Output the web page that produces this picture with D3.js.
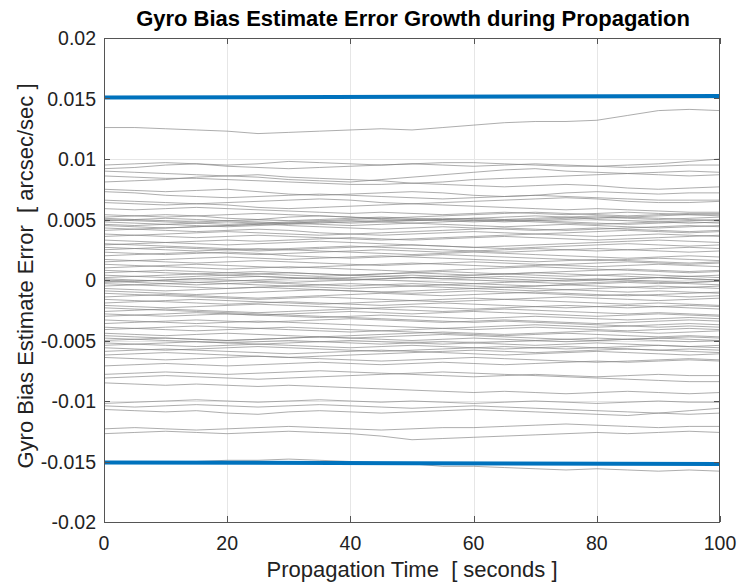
<!DOCTYPE html>
<html>
<head>
<meta charset="utf-8">
<script src="https://cdn.jsdelivr.net/npm/d3@7/dist/d3.min.js"></script>
<style>
  body { margin: 0; background: #fff; }
  text { font-family: 'Liberation Sans', Arial, Helvetica, sans-serif; }
</style>
</head>
<body>
<script>
window.document.addEventListener('DOMContentLoaded', init, false);

// sample times [seconds]
var timeGrid = [0, 5, 10, 15, 20, 25, 30, 35, 40, 45, 50, 55, 60, 65, 70, 75, 80, 85, 90, 95, 100];

// run values, in units of 0.001 arcsec/sec
var upperRuns = [
    [12.6, 12.6, 12.5, 12.4, 12.3, 12.1, 12.2, 12.3, 12.4, 12.5, 12.4, 12.6, 12.8, 13.0, 13.1, 13.1, 13.2, 13.6, 14.0, 14.1, 14.0],
    [9.5, 9.6, 9.7, 9.6, 9.5, 9.6, 9.8, 9.7, 9.6, 9.5, 9.6, 9.7, 9.7, 9.6, 9.5, 9.4, 9.4, 9.5, 9.6, 9.8, 10.0],
    [9.2, 9.3, 9.5, 9.6, 9.4, 9.3, 9.2, 9.3, 9.4, 9.5, 9.6, 9.5, 9.4, 9.5, 9.6, 9.5, 9.4, 9.3, 9.4, 9.5, 9.5],
    [9.0, 8.9, 8.8, 8.7, 8.6, 8.5, 8.3, 8.2, 8.1, 8.3, 8.5, 8.7, 8.9, 9.1, 9.2, 9.0, 8.9, 8.8, 8.9, 9.0, 8.9],
    [8.6, 8.5, 8.4, 8.4, 8.3, 8.2, 8.1, 8.0, 7.9, 7.9, 8.0, 8.1, 8.3, 8.4, 8.5, 8.6, 8.7, 8.8, 8.7, 8.6, 8.7],
    [8.1, 8.2, 8.3, 8.5, 8.6, 8.7, 8.5, 8.4, 8.3, 8.2, 8.0, 7.9, 7.8, 7.7, 7.8, 7.9, 7.8, 7.6, 7.5, 7.6, 7.7],
    [7.5, 7.4, 7.3, 7.4, 7.5, 7.3, 7.1, 7.0, 7.1, 7.2, 7.3, 7.2, 7.0, 6.9, 7.0, 7.2, 7.3, 7.2, 7.1, 7.2, 7.2],
    [7.3, 7.2, 7.0, 6.9, 6.8, 6.9, 7.0, 7.1, 7.0, 6.9, 6.8, 6.7, 6.8, 6.9, 7.0, 6.9, 6.8, 6.7, 6.6, 6.6, 6.6],
    [6.6, 6.5, 6.4, 6.3, 6.4, 6.5, 6.6, 6.7, 6.6, 6.4, 6.3, 6.4, 6.5, 6.6, 6.7, 6.8, 6.7, 6.5, 6.4, 6.4, 6.5],
    [6.4, 6.3, 6.2, 6.3, 6.2, 6.0, 5.9, 6.0, 6.1, 6.2, 6.3, 6.2, 6.1, 6.0, 5.9, 5.8, 5.9, 5.8, 5.7, 5.6, 5.6],
    [5.9, 5.8, 5.9, 6.0, 5.9, 5.8, 5.7, 5.6, 5.5, 5.6, 5.5, 5.4, 5.5, 5.6, 5.5, 5.4, 5.5, 5.6, 5.5, 5.4, 5.4]
];

var centralRuns = [
    [5.4, 5.3, 5.2, 5.3, 5.4, 5.5, 5.4, 5.3, 5.2, 5.1, 5.2, 5.3, 5.4, 5.5, 5.6, 5.5, 5.4, 5.3, 5.4, 5.5, 5.5],
    [5.2, 5.3, 5.4, 5.3, 5.1, 5.0, 4.9, 5.0, 5.1, 5.2, 5.1, 5.0, 4.9, 4.8, 4.9, 5.0, 5.1, 5.2, 5.1, 5.0, 4.9],
    [5.1, 5.0, 4.9, 4.8, 4.9, 5.0, 5.2, 5.3, 5.2, 5.0, 4.9, 5.0, 5.1, 5.2, 5.3, 5.2, 5.0, 4.9, 4.8, 4.7, 4.8],
    [5.0, 4.9, 4.8, 4.7, 4.6, 4.7, 4.8, 4.9, 5.0, 5.1, 5.0, 4.9, 4.8, 4.9, 5.0, 5.1, 5.2, 5.1, 5.0, 5.1, 5.2],
    [4.9, 5.0, 5.1, 5.0, 4.9, 4.8, 4.7, 4.6, 4.5, 4.6, 4.7, 4.6, 4.5, 4.4, 4.5, 4.6, 4.5, 4.4, 4.3, 4.4, 4.5],
    [4.8, 4.7, 4.6, 4.5, 4.4, 4.5, 4.6, 4.7, 4.8, 4.9, 5.0, 5.1, 5.0, 4.9, 4.8, 4.7, 4.6, 4.7, 4.8, 4.9, 5.0],
    [4.6, 4.5, 4.6, 4.7, 4.8, 4.7, 4.5, 4.4, 4.3, 4.2, 4.3, 4.4, 4.3, 4.2, 4.1, 4.2, 4.3, 4.2, 4.1, 4.0, 4.1],
    [4.5, 4.4, 4.3, 4.4, 4.5, 4.6, 4.7, 4.8, 4.9, 4.8, 4.7, 4.8, 4.9, 5.0, 4.9, 4.8, 4.7, 4.6, 4.7, 4.8, 4.7],
    [4.3, 4.2, 4.1, 4.0, 4.1, 4.2, 4.1, 3.9, 3.8, 3.7, 3.8, 3.9, 4.0, 3.9, 3.8, 3.7, 3.6, 3.7, 3.8, 3.7, 3.6],
    [4.1, 4.2, 4.3, 4.4, 4.5, 4.6, 4.7, 4.8, 4.7, 4.8, 4.9, 5.0, 5.1, 5.0, 5.1, 5.2, 5.3, 5.2, 5.3, 5.4, 5.3],
    [3.8, 3.7, 3.6, 3.5, 3.6, 3.7, 3.6, 3.5, 3.4, 3.3, 3.4, 3.5, 3.6, 3.7, 3.8, 3.9, 4.0, 4.1, 4.0, 3.9, 4.0],
    [3.6, 3.7, 3.8, 3.9, 4.0, 3.9, 3.8, 3.7, 3.8, 3.9, 4.0, 4.1, 4.2, 4.3, 4.2, 4.1, 4.2, 4.3, 4.4, 4.5, 4.4],
    [3.3, 3.2, 3.1, 3.0, 2.9, 3.0, 3.1, 3.2, 3.1, 3.0, 2.9, 2.8, 2.7, 2.8, 2.9, 3.0, 3.1, 3.2, 3.3, 3.2, 3.1],
    [3.0, 2.9, 2.8, 2.7, 2.6, 2.5, 2.6, 2.7, 2.8, 2.7, 2.6, 2.5, 2.4, 2.3, 2.4, 2.5, 2.6, 2.5, 2.4, 2.3, 2.4],
    [2.9, 3.0, 3.1, 3.2, 3.3, 3.2, 3.3, 3.4, 3.5, 3.4, 3.3, 3.4, 3.5, 3.6, 3.5, 3.4, 3.3, 3.4, 3.5, 3.6, 3.7],
    [2.7, 2.6, 2.5, 2.4, 2.5, 2.6, 2.5, 2.4, 2.3, 2.2, 2.1, 2.2, 2.3, 2.2, 2.1, 2.0, 1.9, 1.8, 1.9, 2.0, 1.9],
    [2.5, 2.6, 2.7, 2.6, 2.5, 2.4, 2.5, 2.6, 2.7, 2.8, 2.9, 2.8, 2.7, 2.6, 2.7, 2.8, 2.9, 3.0, 2.9, 2.8, 2.9],
    [2.3, 2.2, 2.1, 2.2, 2.3, 2.2, 2.0, 1.9, 1.8, 1.9, 2.0, 2.1, 2.0, 1.9, 1.8, 1.7, 1.6, 1.7, 1.8, 1.7, 1.6],
    [2.0, 2.1, 2.2, 2.3, 2.2, 2.1, 2.2, 2.3, 2.4, 2.5, 2.4, 2.3, 2.4, 2.5, 2.6, 2.5, 2.4, 2.5, 2.6, 2.7, 2.6],
    [1.7, 1.6, 1.5, 1.4, 1.5, 1.6, 1.5, 1.4, 1.3, 1.2, 1.3, 1.4, 1.5, 1.4, 1.3, 1.2, 1.1, 1.2, 1.3, 1.2, 1.1],
    [1.5, 1.6, 1.7, 1.8, 1.9, 1.8, 1.7, 1.8, 1.9, 2.0, 1.9, 1.8, 1.7, 1.6, 1.5, 1.6, 1.7, 1.6, 1.5, 1.4, 1.5],
    [1.3, 1.2, 1.1, 1.0, 0.9, 1.0, 1.1, 1.0, 0.9, 0.8, 0.7, 0.8, 0.9, 1.0, 1.1, 1.0, 0.9, 0.8, 0.7, 0.6, 0.7],
    [1.0, 1.1, 1.2, 1.3, 1.2, 1.1, 1.0, 1.1, 1.2, 1.3, 1.4, 1.3, 1.2, 1.1, 1.2, 1.3, 1.4, 1.5, 1.4, 1.3, 1.4],
    [0.8, 0.7, 0.6, 0.5, 0.6, 0.7, 0.6, 0.5, 0.4, 0.5, 0.6, 0.7, 0.6, 0.5, 0.4, 0.3, 0.4, 0.5, 0.4, 0.3, 0.2],
    [0.6, 0.7, 0.8, 0.7, 0.6, 0.5, 0.4, 0.3, 0.4, 0.5, 0.6, 0.5, 0.4, 0.5, 0.6, 0.7, 0.8, 0.9, 0.8, 0.7, 0.8],
    [0.4, 0.3, 0.2, 0.3, 0.4, 0.5, 0.6, 0.5, 0.4, 0.3, 0.2, 0.1, 0.2, 0.3, 0.2, 0.1, 0.0, 0.1, 0.2, 0.1, 0.0],
    [0.2, 0.3, 0.4, 0.5, 0.4, 0.3, 0.2, 0.1, 0.0, 0.1, 0.2, 0.3, 0.4, 0.5, 0.6, 0.5, 0.4, 0.3, 0.2, 0.3, 0.4],
    [0.1, 0.0, -0.1, -0.2, -0.1, 0.0, 0.1, 0.2, 0.1, 0.0, -0.1, -0.2, -0.3, -0.2, -0.1, 0.0, 0.1, 0.0, -0.1, -0.2, -0.1],
    [0.0, -0.1, 0.0, 0.1, 0.2, 0.3, 0.2, 0.1, 0.2, 0.3, 0.4, 0.3, 0.2, 0.1, 0.0, -0.1, 0.0, 0.1, 0.2, 0.1, 0.0],
    [-0.1, -0.2, -0.3, -0.4, -0.3, -0.2, -0.3, -0.4, -0.5, -0.4, -0.3, -0.4, -0.5, -0.6, -0.5, -0.4, -0.5, -0.6, -0.7, -0.6, -0.5],
    [-0.2, -0.1, 0.0, 0.1, 0.0, -0.1, -0.2, -0.1, 0.0, 0.1, 0.2, 0.1, 0.0, -0.1, -0.2, -0.3, -0.2, -0.1, -0.2, -0.3, -0.4],
    [-0.3, -0.4, -0.5, -0.6, -0.7, -0.6, -0.5, -0.4, -0.3, -0.4, -0.5, -0.6, -0.7, -0.8, -0.9, -0.8, -0.9, -1.0, -0.9, -1.0, -1.1],
    [-0.5, -0.4, -0.3, -0.2, -0.3, -0.4, -0.5, -0.6, -0.7, -0.6, -0.5, -0.4, -0.3, -0.4, -0.5, -0.4, -0.3, -0.2, -0.3, -0.2, -0.1],
    [-0.7, -0.8, -0.9, -0.8, -0.7, -0.6, -0.7, -0.8, -0.9, -1.0, -1.1, -1.0, -0.9, -1.0, -1.1, -1.2, -1.3, -1.2, -1.3, -1.4, -1.3],
    [-0.9, -1.0, -1.1, -1.2, -1.1, -1.0, -0.9, -0.8, -0.9, -1.0, -0.9, -0.8, -0.7, -0.6, -0.7, -0.8, -0.7, -0.6, -0.5, -0.6, -0.7],
    [-1.1, -1.2, -1.3, -1.4, -1.5, -1.6, -1.5, -1.4, -1.5, -1.6, -1.7, -1.8, -1.7, -1.6, -1.7, -1.8, -1.9, -2.0, -1.9, -2.0, -2.1],
    [-1.4, -1.3, -1.2, -1.3, -1.4, -1.5, -1.4, -1.3, -1.2, -1.1, -1.2, -1.3, -1.2, -1.1, -1.0, -1.1, -1.2, -1.3, -1.2, -1.1, -1.0],
    [-1.6, -1.7, -1.8, -1.9, -2.0, -1.9, -1.8, -1.9, -2.0, -2.1, -2.0, -1.9, -2.0, -2.1, -2.2, -2.3, -2.2, -2.1, -2.2, -2.3, -2.4],
    [-1.9, -1.8, -1.7, -1.6, -1.7, -1.8, -1.9, -2.0, -1.9, -1.8, -1.7, -1.6, -1.5, -1.6, -1.5, -1.4, -1.5, -1.6, -1.7, -1.6, -1.5],
    [-2.1, -2.2, -2.3, -2.2, -2.1, -2.0, -2.1, -2.2, -2.3, -2.4, -2.5, -2.6, -2.5, -2.4, -2.5, -2.6, -2.7, -2.8, -2.7, -2.8, -2.9],
    [-2.3, -2.4, -2.5, -2.6, -2.7, -2.8, -2.9, -3.0, -3.1, -3.2, -3.3, -3.4, -3.5, -3.4, -3.5, -3.6, -3.7, -3.8, -3.9, -3.8, -3.9],
    [-2.6, -2.5, -2.4, -2.5, -2.6, -2.7, -2.6, -2.5, -2.4, -2.3, -2.2, -2.3, -2.4, -2.3, -2.2, -2.1, -2.2, -2.3, -2.2, -2.1, -2.2],
    [-2.8, -2.9, -3.0, -2.9, -2.8, -2.9, -3.0, -3.1, -3.0, -2.9, -3.0, -3.1, -3.2, -3.1, -3.0, -3.1, -3.2, -3.3, -3.2, -3.1, -3.2],
    [-3.0, -2.9, -2.8, -2.7, -2.8, -2.9, -2.8, -2.7, -2.6, -2.7, -2.8, -2.7, -2.6, -2.7, -2.8, -2.9, -3.0, -2.9, -2.8, -2.9, -3.0],
    [-3.3, -3.4, -3.5, -3.6, -3.5, -3.4, -3.5, -3.6, -3.7, -3.8, -3.9, -4.0, -4.1, -4.0, -3.9, -4.0, -4.1, -4.2, -4.1, -4.0, -4.1],
    [-3.6, -3.5, -3.4, -3.3, -3.4, -3.5, -3.4, -3.3, -3.2, -3.3, -3.4, -3.5, -3.4, -3.3, -3.4, -3.5, -3.6, -3.5, -3.4, -3.3, -3.4],
    [-3.9, -4.0, -4.1, -4.2, -4.1, -4.0, -3.9, -4.0, -4.1, -4.2, -4.3, -4.4, -4.5, -4.6, -4.5, -4.4, -4.5, -4.6, -4.7, -4.6, -4.7],
    [-4.1, -4.0, -3.9, -3.8, -3.9, -4.0, -4.1, -4.2, -4.3, -4.2, -4.1, -4.0, -3.9, -3.8, -3.7, -3.8, -3.9, -3.8, -3.7, -3.6, -3.7],
    [-4.4, -4.5, -4.6, -4.5, -4.4, -4.5, -4.6, -4.7, -4.8, -4.7, -4.6, -4.5, -4.6, -4.7, -4.8, -4.9, -5.0, -4.9, -4.8, -4.9, -5.0],
    [-4.6, -4.7, -4.8, -4.9, -5.0, -4.9, -4.8, -4.7, -4.6, -4.5, -4.4, -4.3, -4.4, -4.5, -4.4, -4.3, -4.2, -4.3, -4.4, -4.3, -4.2],
    [-4.8, -4.9, -5.0, -5.1, -5.2, -5.1, -5.0, -5.1, -5.2, -5.3, -5.2, -5.1, -5.2, -5.3, -5.4, -5.3, -5.2, -5.3, -5.4, -5.5, -5.4],
    [-5.0, -4.9, -4.8, -4.9, -5.0, -4.9, -4.8, -4.7, -4.8, -4.9, -5.0, -4.9, -4.8, -4.9, -5.0, -5.1, -5.0, -4.9, -5.0, -5.1, -5.0],
    [-5.2, -5.3, -5.4, -5.5, -5.4, -5.3, -5.4, -5.5, -5.6, -5.5, -5.4, -5.5, -5.6, -5.7, -5.6, -5.5, -5.6, -5.7, -5.8, -5.7, -5.8],
    [-5.4, -5.3, -5.2, -5.1, -5.2, -5.3, -5.2, -5.1, -5.0, -5.1, -5.2, -5.3, -5.2, -5.1, -5.0, -4.9, -4.8, -4.9, -4.8, -4.7, -4.8],
    [-5.6, -5.7, -5.8, -5.7, -5.6, -5.5, -5.6, -5.7, -5.8, -5.9, -5.8, -5.7, -5.6, -5.5, -5.6, -5.7, -5.6, -5.5, -5.4, -5.5, -5.6],
    [-5.9, -5.8, -5.7, -5.8, -5.9, -6.0, -6.1, -6.0, -5.9, -5.8, -5.9, -6.0, -6.1, -6.2, -6.1, -6.0, -5.9, -6.0, -6.1, -6.2, -6.1],
    [-6.2, -6.1, -6.0, -6.1, -6.2, -6.3, -6.4, -6.3, -6.2, -6.1, -6.0, -5.9, -5.8, -5.9, -6.0, -5.9, -5.8, -5.7, -5.8, -5.9, -6.0],
    [-6.4, -6.5, -6.6, -6.5, -6.4, -6.3, -6.4, -6.5, -6.6, -6.7, -6.6, -6.5, -6.4, -6.5, -6.6, -6.7, -6.8, -6.7, -6.6, -6.5, -6.6]
];

var lowerRuns = [
    [-7.1, -7.0, -6.9, -7.0, -7.1, -7.0, -6.9, -6.8, -6.9, -7.0, -6.9, -6.8, -6.9, -7.0, -6.9, -6.8, -6.7, -6.8, -6.7, -6.6, -6.7],
    [-7.8, -7.7, -7.6, -7.7, -7.8, -7.7, -7.6, -7.5, -7.6, -7.7, -7.8, -7.9, -8.0, -7.9, -7.8, -7.9, -8.0, -7.9, -7.8, -7.9, -7.9],
    [-8.1, -8.0, -7.9, -8.0, -8.1, -8.2, -8.1, -8.0, -7.9, -7.8, -7.7, -7.6, -7.7, -7.8, -7.9, -8.0, -8.1, -8.2, -8.3, -8.4, -8.4],
    [-8.5, -8.6, -8.7, -8.6, -8.7, -8.8, -8.7, -8.8, -8.9, -9.0, -9.1, -9.2, -9.3, -9.2, -9.3, -9.4, -9.3, -9.2, -9.3, -9.4, -9.3],
    [-10.2, -10.1, -10.0, -9.9, -10.0, -10.1, -10.0, -9.9, -10.0, -10.1, -10.0, -10.1, -10.2, -10.1, -10.0, -10.1, -10.2, -10.1, -10.0, -10.1, -10.1],
    [-10.4, -10.5, -10.4, -10.3, -10.4, -10.5, -10.4, -10.3, -10.4, -10.5, -10.6, -10.5, -10.4, -10.5, -10.6, -10.7, -10.8, -10.9, -11.0, -11.1, -11.0],
    [-10.7, -10.8, -10.9, -10.8, -11.0, -11.1, -10.9, -10.8, -10.9, -11.0, -10.9, -10.8, -10.7, -10.8, -10.9, -11.0, -11.1, -11.2, -11.0, -10.8, -10.6],
    [-12.3, -12.2, -12.3, -12.4, -12.3, -12.2, -12.1, -12.2, -12.3, -12.4, -12.3, -12.2, -12.2, -12.1, -12.0, -11.9, -12.0, -12.1, -12.2, -12.1, -12.1],
    [-12.7, -12.6, -12.5, -12.6, -12.7, -12.6, -12.5, -12.6, -12.7, -12.9, -13.2, -13.1, -13.0, -12.9, -12.8, -12.7, -12.6, -12.7, -12.6, -12.5, -12.6],
    [-15.0, -15.1, -15.0, -15.0, -14.9, -14.9, -14.8, -14.9, -15.0, -15.1, -15.2, -15.4, -15.4, -15.5, -15.6, -15.7, -15.6, -15.7, -15.8, -15.7, -15.8]
];

// 3-sigma bound, also in 0.001 arcsec/sec
var boundTimes = [0, 50, 100];
var boundValues = [15.08, 15.14, 15.2];

var xTicks = [0, 20, 40, 60, 80, 100];
var yTicks = [-0.02, -0.015, -0.01, -0.005, 0, 0.005, 0.01, 0.015, 0.02];
var yTickLabels = ['-0.02', '-0.015', '-0.01', '-0.005', '0', '0.005', '0.01', '0.015', '0.02'];

var titleText = 'Gyro Bias Estimate Error Growth during Propagation';
var xLabelText = 'Propagation Time  [ seconds ]';
var yLabelText = 'Gyro Bias Estimate Error  [ arcsec/sec ]';

var W = 740, H = 582;
var plot = { left: 104, right: 720, top: 38, bottom: 522 };

function init() {
    var svg = d3.select('body').append('svg')
        .attr('width', W)
        .attr('height', H);

    var x = d3.scaleLinear().domain([0, 100]).range([plot.left, plot.right]);
    var y = d3.scaleLinear().domain([-0.02, 0.02]).range([plot.bottom, plot.top]);

    svg.append('defs').append('clipPath').attr('id', 'clip')
        .append('rect')
        .attr('x', plot.left).attr('y', plot.top)
        .attr('width', plot.right - plot.left)
        .attr('height', plot.bottom - plot.top);

    // grid
    var grid = svg.append('g').attr('stroke', '#e6e6e6').attr('stroke-width', 1);
    grid.selectAll('.gx').data(xTicks.slice(1, -1)).enter().append('line')
        .attr('x1', (d) => Math.round(x(d)) + 0.5).attr('x2', (d) => Math.round(x(d)) + 0.5)
        .attr('y1', plot.top).attr('y2', plot.bottom);
    grid.selectAll('.gy').data(yTicks.slice(1, -1)).enter().append('line')
        .attr('y1', (d) => Math.round(y(d)) + 0.5).attr('y2', (d) => Math.round(y(d)) + 0.5)
        .attr('x1', plot.left).attr('x2', plot.right);

    var runLine = d3.line()
        .x((d, i) => x(timeGrid[i]))
        .y((d) => y(d / 1000));

    var runs = upperRuns.concat(centralRuns, lowerRuns);
    svg.append('g').attr('clip-path', 'url(#clip)')
        .selectAll('path').data(runs).enter().append('path')
        .attr('d', runLine)
        .attr('fill', 'none')
        .attr('stroke', '#808080')
        .attr('stroke-width', 0.65);

    var boundLine = d3.line()
        .x((d, i) => x(boundTimes[i]))
        .y((d) => y(d / 1000));

    var bounds = svg.append('g');
    [1, -1].forEach(function (sign) {
        bounds.append('path')
            .attr('d', boundLine(boundValues.map((v) => sign * v)))
            .attr('fill', 'none')
            .attr('stroke', '#0072BD')
            .attr('stroke-width', 4);
    });

    // box + inward ticks
    var axisColor = '#555';
    svg.append('rect')
        .attr('x', plot.left + 0.5).attr('y', plot.top + 0.5)
        .attr('width', plot.right - plot.left - 1)
        .attr('height', plot.bottom - plot.top)
        .attr('fill', 'none').attr('stroke', axisColor).attr('stroke-width', 1);

    var ticks = svg.append('g').attr('stroke', axisColor).attr('stroke-width', 1);
    var tl = 6;
    xTicks.forEach(function (t) {
        var px = Math.round(x(t)) + 0.5;
        ticks.append('line').attr('x1', px).attr('x2', px).attr('y1', plot.bottom).attr('y2', plot.bottom - tl);
        ticks.append('line').attr('x1', px).attr('x2', px).attr('y1', plot.top).attr('y2', plot.top + tl);
    });
    yTicks.forEach(function (t) {
        var py = Math.round(y(t)) + 0.5;
        ticks.append('line').attr('y1', py).attr('y2', py).attr('x1', plot.left).attr('x2', plot.left + tl);
        ticks.append('line').attr('y1', py).attr('y2', py).attr('x1', plot.right).attr('x2', plot.right - tl);
    });

    // tick labels
    svg.append('g').selectAll('text').data(xTicks).enter().append('text')
        .attr('x', (d) => x(d))
        .attr('y', plot.bottom + 28)
        .attr('text-anchor', 'middle')
        .attr('font-size', '19.5px')
        .attr('fill', '#222')
        .text((d) => d);

    svg.append('g').selectAll('text').data(yTicks).enter().append('text')
        .attr('x', plot.left - 8)
        .attr('y', (d) => y(d) + 7)
        .attr('text-anchor', 'end')
        .attr('font-size', '19.5px')
        .attr('fill', '#222')
        .text((d, i) => yTickLabels[i]);

    // title and axis labels
    svg.append('text')
        .attr('x', (plot.left + plot.right) / 2 + 1)
        .attr('y', 26)
        .attr('text-anchor', 'middle')
        .attr('font-size', '22px')
        .attr('font-weight', 'bold')
        .attr('fill', '#000')
        .text(titleText);

    svg.append('text')
        .attr('x', (plot.left + plot.right) / 2)
        .attr('y', 577)
        .attr('text-anchor', 'middle')
        .attr('font-size', '22px')
        .attr('fill', '#222')
        .style('white-space', 'pre')
        .text(xLabelText);

    svg.append('text')
        .attr('transform', `translate(33, ${(plot.top + plot.bottom) / 2 - 4}) rotate(-90)`)
        .attr('text-anchor', 'middle')
        .attr('font-size', '22px')
        .attr('fill', '#222')
        .style('white-space', 'pre')
        .text(yLabelText);
}
</script>
</body>
</html>
